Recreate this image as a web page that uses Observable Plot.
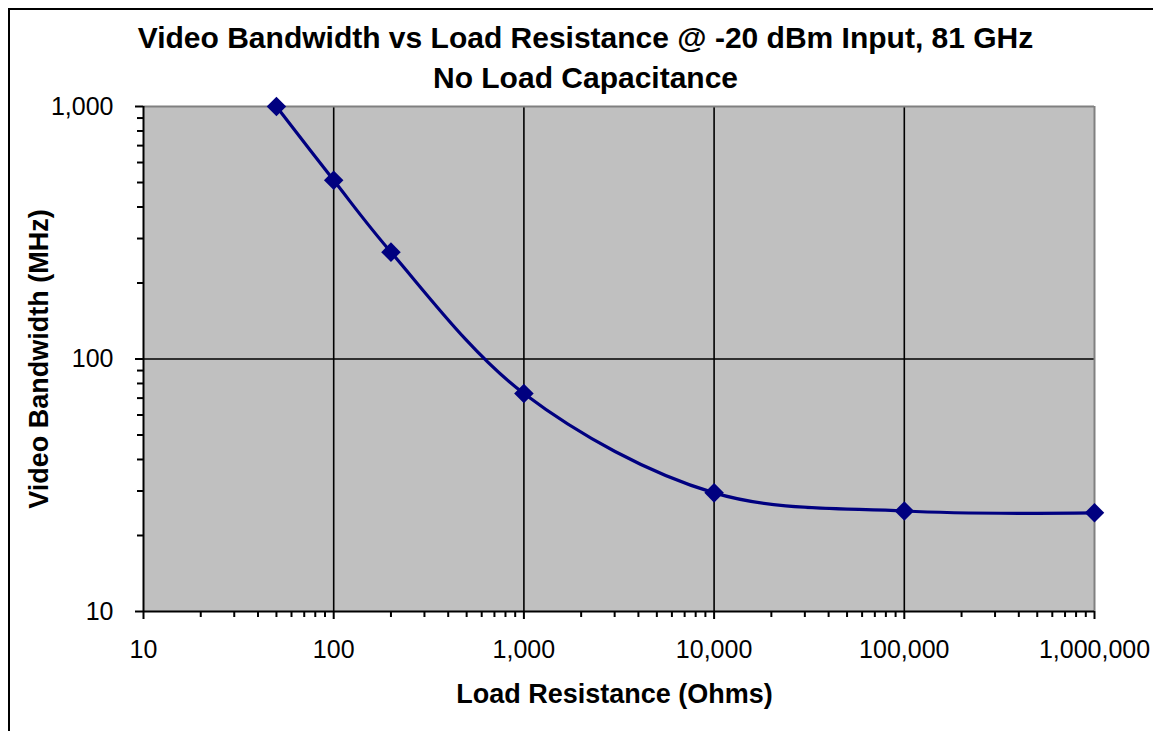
<!DOCTYPE html>
<html>
<head>
<meta charset="utf-8">
<script src="https://cdn.jsdelivr.net/npm/d3@7"></script>
<script src="https://cdn.jsdelivr.net/npm/@observablehq/plot@0.6"></script>
<style>
  html, body { margin: 0; padding: 0; background: #fff; }
  #wrap { position: relative; width: 1153px; height: 731px; overflow: hidden; }
  #border { position: absolute; left: 8px; top: 8px; width: 1300px; height: 900px; border: 2px solid #000; box-sizing: border-box; pointer-events: none; z-index: 2; }
  svg { display: block; position: absolute; left: 0; top: 0; z-index: 1; }
</style>
</head>
<body>
<div id="wrap"><div id="border"></div></div>
<script>
const resistance = [50, 100, 200, 1000, 10000, 100000, 1000000];
const bandwidth = [1000, 510, 265, 73, 29.5, 25, 24.6];

const xMajorTicks = [10, 100, 1000, 10000, 100000, 1000000];
const yMajorTicks = [10, 100, 1000];
const minorSteps = [2, 3, 4, 5, 6, 7, 8, 9];
const xMinorTicks = xMajorTicks.slice(0, -1).flatMap(d => minorSteps.map(m => d * m));
const yMinorTicks = yMajorTicks.slice(0, -1).flatMap(d => minorSteps.map(m => d * m));

const titleLine1 = "Video Bandwidth vs Load Resistance @ -20 dBm Input, 81 GHz";
const titleLine2 = "No Load Capacitance";
const xTitle = "Load Resistance (Ohms)";
const yTitle = "Video Bandwidth (MHz)";

const data = resistance.map((r, i) => ({r, bw: bandwidth[i]}));
const font = "'Liberation Sans', Arial, sans-serif";

const chart = Plot.plot({
  width: 1153,
  height: 731,
  marginLeft: 143,
  marginRight: 59,
  marginTop: 106,
  marginBottom: 120,
  style: {fontFamily: font, fontSize: "25px", background: "transparent", color: "#000"},
  x: {type: "log", domain: [10, 1000000], axis: null, label: null},
  y: {type: "log", domain: [10, 1000], axis: null, label: null},
  marks: [
    Plot.frame({fill: "#c0c0c0", stroke: null}),
    Plot.ruleX([100, 1000, 10000, 100000], {stroke: "#000", strokeWidth: 1.6}),
    Plot.ruleY([100], {stroke: "#000", strokeWidth: 1.6}),
    Plot.ruleY([1000], {stroke: "#808080", strokeWidth: 2}),
    Plot.ruleX([1000000], {stroke: "#808080", strokeWidth: 2}),
    Plot.ruleX([10], {stroke: "#000", strokeWidth: 2}),
    Plot.ruleY([10], {stroke: "#000", strokeWidth: 2}),
    Plot.axisX({ticks: xMinorTicks, tickSize: 6, tickFormat: null, text: null, label: null, strokeWidth: 2, stroke: "#000", strokeOpacity: 1}),
    Plot.axisX({ticks: xMajorTicks, tickSize: 8, tickPadding: 21, tickFormat: d3.format(","), label: null, strokeWidth: 2, stroke: "#000", strokeOpacity: 1, fill: "#000", fontSize: 25}),
    Plot.axisY({ticks: yMinorTicks, tickSize: 6, tickFormat: null, text: null, label: null, strokeWidth: 2, stroke: "#000", strokeOpacity: 1}),
    Plot.axisY({ticks: yMajorTicks, tickSize: 8, tickPadding: 22, tickFormat: d3.format(","), label: null, strokeWidth: 2, stroke: "#000", strokeOpacity: 1, fill: "#000", fontSize: 25}),
    Plot.line(data, {x: "r", y: "bw", stroke: "#000080", strokeWidth: 3.2, curve: "catmull-rom"}),
    Plot.dot(data, {x: "r", y: "bw", symbol: "diamond2", r: 8.8, fill: "#000080", stroke: "none"}),
    Plot.text([titleLine1], {frameAnchor: "top-left", dx: 442, dy: -59, text: d => d, lineAnchor: "bottom", textAnchor: "middle", fontSize: 30, fontWeight: "bold", fill: "#000"}),
    Plot.text([titleLine2], {frameAnchor: "top-left", dx: 442, dy: -19, text: d => d, lineAnchor: "bottom", textAnchor: "middle", fontSize: 30, fontWeight: "bold", fill: "#000"}),
    Plot.text([xTitle], {frameAnchor: "bottom-left", dx: 471, dy: 91, text: d => d, lineAnchor: "bottom", textAnchor: "middle", fontSize: 27, fontWeight: "bold", fill: "#000"}),
    Plot.text([yTitle], {frameAnchor: "left", dx: -96, dy: 0, text: d => d, rotate: -90, lineAnchor: "bottom", textAnchor: "middle", fontSize: 27, fontWeight: "bold", fill: "#000"})
  ]
});
document.getElementById("wrap").prepend(chart);
</script>
</body>
</html>
